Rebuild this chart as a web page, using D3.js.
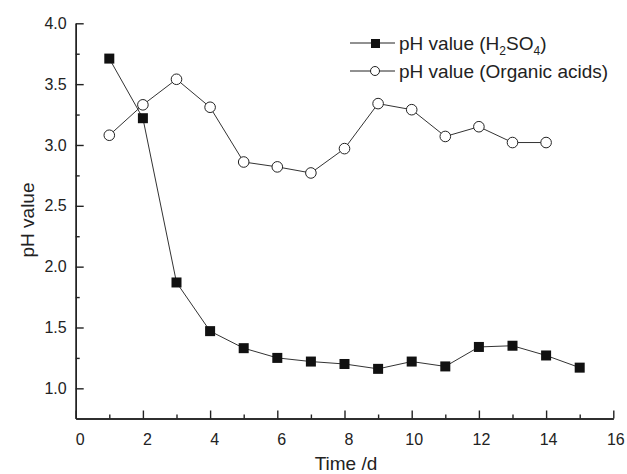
<!DOCTYPE html>
<html>
<head>
<meta charset="utf-8">
<script src="https://cdn.jsdelivr.net/npm/d3@7"></script>
<style>
  body { margin: 0; background: #fff; }
  text { font-family: "Liberation Sans", Arial, sans-serif; fill: #222; }
</style>
</head>
<body>
<div id="chart"></div>
<script>
const WIDTH = 627;
const HEIGHT = 474;
const LEFT = 75.7;
const RIGHT = 613.3;
const TOP = 23.3;
const BOTTOM = 418.5;

// data
const daysH2SO4 = [1, 2, 3, 4, 5, 6, 7, 8, 9, 10, 11, 12, 13, 14, 15];
const phH2SO4 = [3.71, 3.22, 1.87, 1.47, 1.33, 1.25, 1.22, 1.20, 1.16, 1.22, 1.18, 1.34, 1.35, 1.27, 1.17];
const daysOrganic = [1, 2, 3, 4, 5, 6, 7, 8, 9, 10, 11, 12, 13, 14];
const phOrganic = [3.08, 3.33, 3.54, 3.31, 2.86, 2.82, 2.77, 2.97, 3.34, 3.29, 3.07, 3.15, 3.02, 3.02];
const xTicks = [0, 2, 4, 6, 8, 10, 12, 14, 16];
const yTicks = [1.0, 1.5, 2.0, 2.5, 3.0, 3.5, 4.0];

const svg = d3.select('#chart').append('svg')
  .attr('width', WIDTH)
  .attr('height', HEIGHT);

const x = d3.scaleLinear().domain([0, 16]).range([LEFT, RIGHT]);
const y = d3.scaleLinear().domain([0.752, 4.0]).range([BOTTOM, TOP]);

// axes, ticks pointing inward
let xMinor = d3.range(1, 16, 2);
let yMinor = d3.range(1.25, 4, 0.5);

svg.append('g').attr('transform', `translate(0,${BOTTOM})`)
  .call(d3.axisBottom(x).tickValues(xMinor).tickSize(-4).tickSizeOuter(0).tickFormat(''));
let xAxis = svg.append('g').attr('transform', `translate(0,${BOTTOM})`)
  .call(d3.axisBottom(x).tickValues(xTicks).tickSize(-8).tickSizeOuter(0).tickPadding(15).tickFormat(d3.format('d')));
xAxis.selectAll('.tick text').attr('dx', (d) => d < 10 ? 4 : 2);

svg.append('g').attr('transform', `translate(${LEFT},0)`)
  .call(d3.axisLeft(y).tickValues(yMinor).tickSize(-4).tickSizeOuter(0).tickFormat(''));
svg.append('g').attr('transform', `translate(${LEFT},0)`)
  .call(d3.axisLeft(y).tickValues(yTicks).tickSize(-8).tickSizeOuter(0).tickPadding(9).tickFormat(d3.format('.1f')));

svg.selectAll('.domain, .tick line').attr('stroke', '#222').attr('stroke-width', 1.4);
svg.selectAll('.tick text').attr('font-size', 16).attr('fill', '#222')
  .style('font-family', '"Liberation Sans", Arial, sans-serif');

svg.append('text')
  .attr('x', 346).attr('y', 470)
  .attr('text-anchor', 'middle').attr('font-size', 19)
  .text('Time /d');

svg.append('text')
  .attr('transform', `translate(34,220) rotate(-90)`)
  .attr('text-anchor', 'middle').attr('font-size', 19)
  .text('pH value');

// series
let line = d3.line().x((d) => x(d[0])).y((d) => y(d[1]));
let h2so4 = daysH2SO4.map((d, i) => [d, phH2SO4[i]]);
let organic = daysOrganic.map((d, i) => [d, phOrganic[i]]);

svg.append('path').datum(h2so4).attr('d', line)
  .attr('fill', 'none').attr('stroke', '#333').attr('stroke-width', 1);
svg.append('path').datum(organic).attr('d', line)
  .attr('fill', 'none').attr('stroke', '#333').attr('stroke-width', 1);

svg.selectAll('.sq').data(h2so4).enter().append('rect')
  .attr('class', 'sq')
  .attr('x', (d) => x(d[0]) - 5).attr('y', (d) => y(d[1]) - 5)
  .attr('width', 10).attr('height', 10)
  .attr('fill', '#111');

svg.selectAll('.ci').data(organic).enter().append('circle')
  .attr('class', 'ci')
  .attr('cx', (d) => x(d[0])).attr('cy', (d) => y(d[1]))
  .attr('r', 5.3)
  .attr('fill', '#fff').attr('stroke', '#222').attr('stroke-width', 1);

// legend
let legend = svg.append('g');
legend.append('line').attr('x1', 350).attr('x2', 395).attr('y1', 43).attr('y2', 43).attr('stroke', '#222');
legend.append('rect').attr('x', 371).attr('y', 39).attr('width', 9).attr('height', 9).attr('fill', '#111');
let t1 = legend.append('text').attr('x', 399).attr('y', 50).attr('font-size', 19);
t1.append('tspan').text('pH value (H');
t1.append('tspan').attr('font-size', 12).attr('dy', 5).text('2');
t1.append('tspan').attr('dy', -5).text('SO');
t1.append('tspan').attr('font-size', 12).attr('dy', 5).text('4');
t1.append('tspan').attr('dy', -5).text(')');

legend.append('line').attr('x1', 350).attr('x2', 395).attr('y1', 71).attr('y2', 71).attr('stroke', '#222');
legend.append('circle').attr('cx', 375).attr('cy', 71).attr('r', 4.5).attr('fill', '#fff').attr('stroke', '#222');
legend.append('text').attr('x', 399).attr('y', 78).attr('font-size', 19).text('pH value (Organic acids)');
</script>
</body>
</html>
